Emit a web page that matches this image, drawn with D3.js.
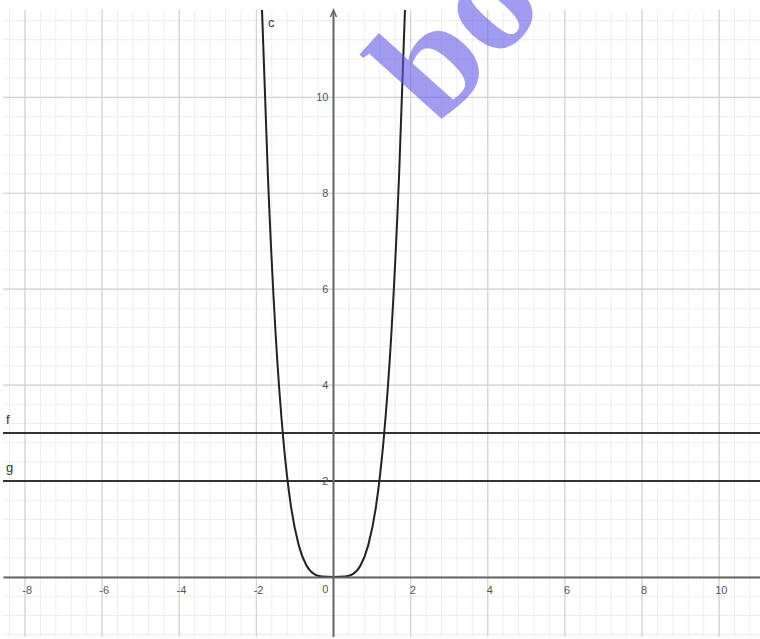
<!DOCTYPE html>
<html lang="en">
<head>
  <meta charset="utf-8">
  <script src="https://d3js.org/d3.v7.min.js"></script>
  <style>
    body { margin: 0; background: #fff; }
    text { font-family: "Liberation Sans", Arial, sans-serif; }
  </style>
</head>
<body>
  <script>
    var width = 760,
      height = 639;

    // tick labels
    var xTicks = [-8, -6, -4, -2, 0, 2, 4, 6, 8, 10];
    var yTicks = [2, 4, 6, 8, 10];

    // horizontal lines f and g
    var lineNames = ['f', 'g'];
    var lineValues = [3, 2];

    // points of curve c
    var cX = [-1.86, -1.7, -1.5, -1.3, -1.1, -0.9, -0.7, -0.5, -0.3, 0, 0.3, 0.5, 0.7, 0.9, 1.1, 1.3, 1.5, 1.7, 1.86];
    var cY = [11.97, 8.35, 5.06, 2.86, 1.46, 0.66, 0.24, 0.06, 0.01, 0, 0.01, 0.06, 0.24, 0.66, 1.46, 2.86, 5.06, 8.35, 11.97];

    var svg = d3.select('body')
      .append('svg')
      .attr('width', width)
      .attr('height', height);

    var x = d3.scaleLinear().domain([-8.57, 11.06]).range([3, 760]);
    var y = d3.scaleLinear().domain([-1.25, 11.82]).range([637, 10]);

    svg.append('defs').append('clipPath').attr('id', 'plot')
      .append('rect').attr('x', 3).attr('y', 10).attr('width', 757).attr('height', 627);

    var plot = svg.append('g').attr('clip-path', 'url(#plot)');

    // minor grid (5 per major step)
    var minorX = d3.range(-8.4, 11.1, 0.4);
    var minorY = d3.range(-1.2, 11.9, 0.4);
    plot.selectAll('.minx').data(minorX).join('line')
      .attr('x1', d => x(d)).attr('x2', d => x(d))
      .attr('y1', 10).attr('y2', 637)
      .attr('stroke', '#ededed').attr('stroke-width', 1);
    plot.selectAll('.miny').data(minorY).join('line')
      .attr('x1', 3).attr('x2', 760)
      .attr('y1', d => y(d)).attr('y2', d => y(d))
      .attr('stroke', '#ededed').attr('stroke-width', 1);

    // major grid
    plot.selectAll('.majx').data(d3.range(-8, 11, 2)).join('line')
      .attr('x1', d => x(d)).attr('x2', d => x(d))
      .attr('y1', 10).attr('y2', 637)
      .attr('stroke', '#d2d2d2').attr('stroke-width', 1.2);
    plot.selectAll('.majy').data(d3.range(0, 12, 2)).join('line')
      .attr('x1', 3).attr('x2', 760)
      .attr('y1', d => y(d)).attr('y2', d => y(d))
      .attr('stroke', '#d2d2d2').attr('stroke-width', 1.2);

    // axes
    var xAxis = d3.axisBottom(x).tickValues(xTicks).tickSize(0).tickPadding(9)
      .tickFormat(d => d === 0 ? '' : d);
    var gx = svg.append('g').attr('transform', 'translate(0,' + y(0) + ')').call(xAxis);
    gx.select('.domain').attr('stroke', '#666').attr('stroke-width', 2);
    gx.selectAll('text').attr('fill', '#555').style('font-size', '11px').attr('dx', '0.15em');

    var yAxis = d3.axisLeft(y).tickValues(yTicks).tickSize(0).tickPadding(5);
    var gy = svg.append('g').attr('transform', 'translate(' + x(0) + ',0)').call(yAxis);
    gy.select('.domain').remove();
    gy.selectAll('text').attr('fill', '#555').style('font-size', '11px');
    svg.append('line')
      .attr('x1', x(0)).attr('x2', x(0))
      .attr('y1', 637).attr('y2', 12)
      .attr('stroke', '#666').attr('stroke-width', 2);
    svg.append('path')
      .attr('d', d3.line()([[x(0) - 3, 17], [x(0), 10], [x(0) + 3, 17]]))
      .attr('fill', 'none').attr('stroke', '#666').attr('stroke-width', 1.5);
    svg.append('text')
      .attr('x', x(0) - 5).attr('y', y(0) + 16)
      .attr('text-anchor', 'end')
      .attr('fill', '#555').style('font-size', '11px')
      .text('0');

    // f and g
    plot.selectAll('.hline').data(lineValues).join('line')
      .attr('x1', 3).attr('x2', 760)
      .attr('y1', d => y(d)).attr('y2', d => y(d))
      .attr('stroke', '#333').attr('stroke-width', 2);
    svg.selectAll('.hlab').data(lineNames).join('text')
      .attr('x', 6)
      .attr('y', (d, i) => y(lineValues[i]) - 9)
      .attr('fill', '#333').style('font-size', '13px')
      .text(d => d);

    // curve c
    var cPts = cX.map((v, i) => [v, cY[i]]);
    plot.append('path')
      .datum(cPts)
      .attr('d', d3.line().x(d => x(d[0])).y(d => y(d[1])).curve(d3.curveMonotoneX))
      .attr('fill', 'none').attr('stroke', '#222').attr('stroke-width', 2);
    svg.append('text')
      .attr('x', 268).attr('y', 27)
      .attr('fill', '#333').style('font-size', '13px')
      .text('c');

    // watermark
    svg.append('text')
      .attr('transform', 'translate(438,128) rotate(-48)')
      .attr('fill', 'rgb(100,90,230)').attr('fill-opacity', 0.6)
      .style('font-family', '"Liberation Serif", serif')
      .style('font-weight', 'bold')
      .style('font-size', '155px')
      .text('bo');

    console.log('ready..');
  </script>
</body>
</html>
